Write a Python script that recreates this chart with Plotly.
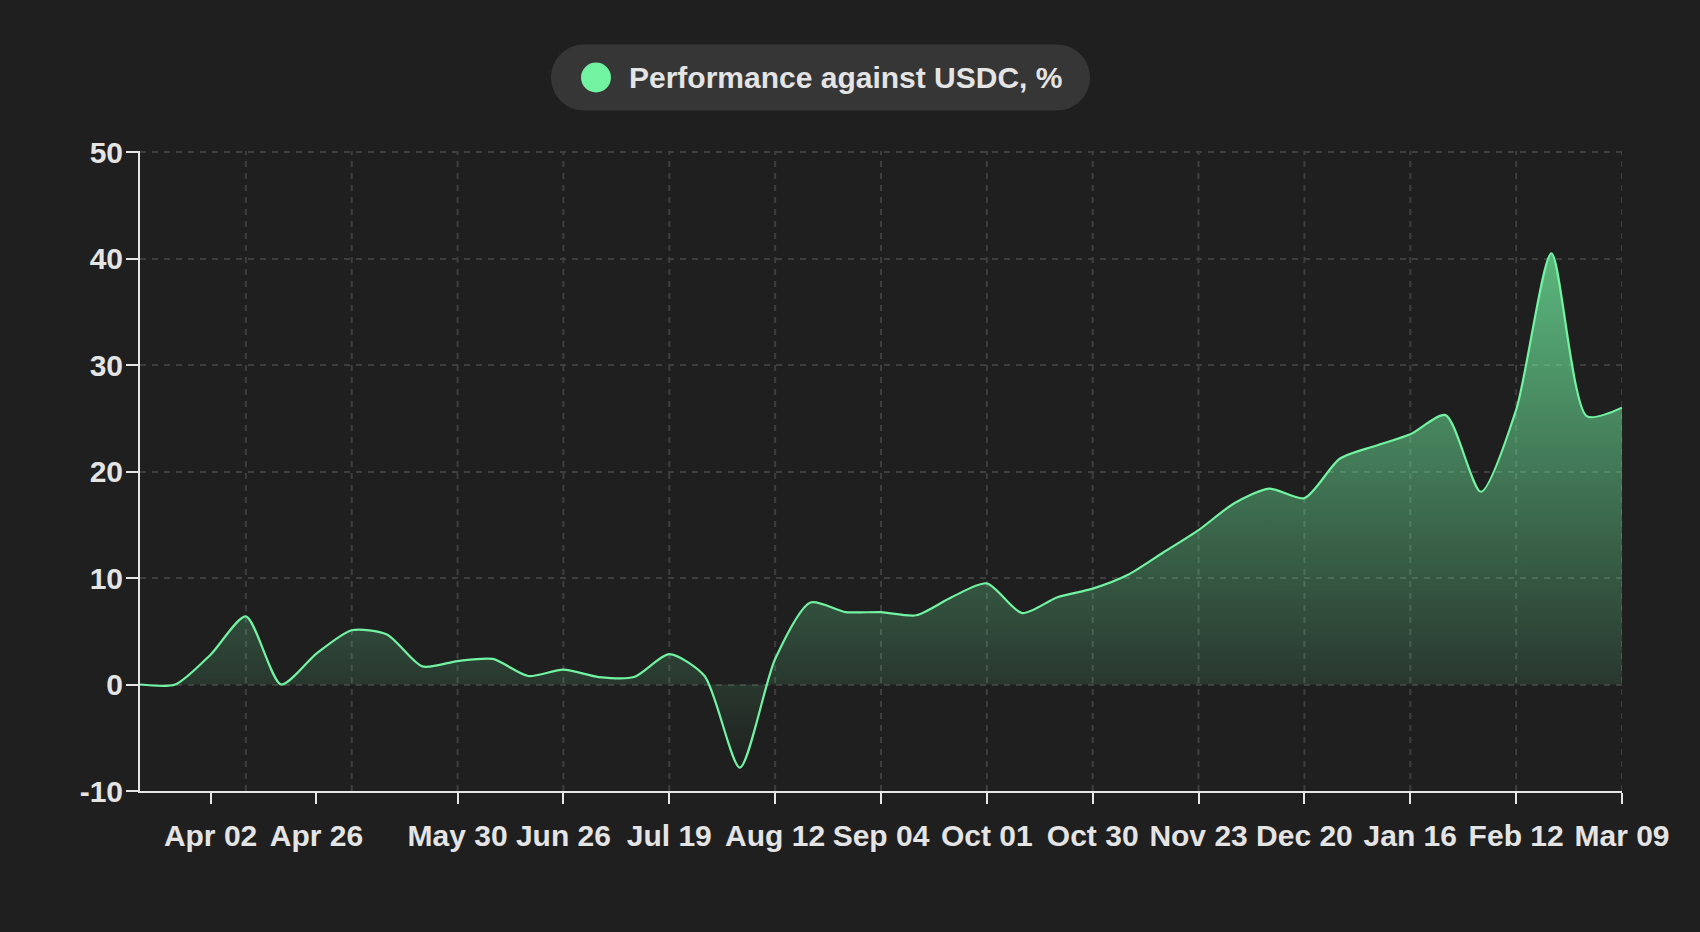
import plotly.graph_objects as go

# Performance against USDC (%), one value per sample point
day_index = list(range(43))
performance = [
    0.0, 0.0, 2.8, 6.4, 0.0, 2.9, 5.1, 4.7, 1.7, 2.2,
    2.4, 0.8, 1.4, 0.7, 0.7, 2.85, 0.8, -7.8, 2.4, 7.7,
    6.8, 6.8, 6.5, 8.2, 9.5, 6.7, 8.2, 9.0, 10.3, 12.4,
    14.5, 17.0, 18.4, 17.5, 21.2, 22.4, 23.5, 25.3, 18.1, 25.8,
    40.5, 25.2, 26.0,
]

# x tick labels and where they sit
tick_index = [2, 5, 9, 12, 15, 18, 21, 24, 27, 30, 33, 36, 39, 42]
tick_labels = ["Apr 02", "Apr 26", "May 30", "Jun 26", "Jul 19", "Aug 12", "Sep 04",
               "Oct 01", "Oct 30", "Nov 23", "Dec 20", "Jan 16", "Feb 12", "Mar 09"]
grid_index = list(range(3, 43, 3))

y_ticks = [-10, 0, 10, 20, 30, 40, 50]
y_tick_labels = ["-10", "0", "10", "20", "30", "40", "50"]

series_name = "Performance against USDC, %"

BG = "#1f1f1f"
GREEN = "#72f3a2"
TEXT = "#e4e4e4"
AXIS = "#e6e6e6"
GRID = "#3e3e3e"

W, H = 1700, 932
L, R, T, B = 140, 78, 151, 141


def px_x(x):
    return (x - L) / (W - L - R)


def px_y(y):
    return (H - B - y) / (H - T - B)


fig = go.Figure()

fig.add_trace(go.Scatter(
    x=day_index,
    y=performance,
    mode="lines",
    name=series_name,
    line=dict(color=GREEN, width=2.2, shape="spline", smoothing=0.7),
    fill="tozeroy",
    fillgradient=dict(
        type="vertical",
        colorscale=[[0, "rgba(114,243,162,0.0)"], [1, "rgba(114,243,162,0.72)"]],
    ),
    showlegend=False,
    hoverinfo="skip",
))

font = dict(family="Liberation Sans, Arial, sans-serif", size=30, color=TEXT, weight=700)

# legend pill drawn by hand (rounded corners)
pill_w, pill_h = 539, 66
r = pill_h / 2
k = 0.5523 * r
pill_path = (
    f"M {r},{-r} L {pill_w - r},{-r} "
    f"C {pill_w - r + k},{-r} {pill_w},{-k} {pill_w},0 "
    f"C {pill_w},{k} {pill_w - r + k},{r} {pill_w - r},{r} "
    f"L {r},{r} "
    f"C {r - k},{r} 0,{k} 0,0 "
    f"C 0,{-k} {r - k},{-r} {r},{-r} Z"
)

# vertical dashed grid, every third sample
grid_shapes = [
    dict(type="line", xref="x", yref="paper", x0=g, x1=g, y0=0, y1=1,
         line=dict(color=GRID, width=2, dash="6px,6px"), layer="below")
    for g in grid_index
]

fig.update_layout(
    width=W,
    height=H,
    margin=dict(l=L, r=R, t=T, b=B),
    paper_bgcolor=BG,
    plot_bgcolor=BG,
    font=font,
    showlegend=False,
    xaxis=dict(
        range=[0, 42],
        tickmode="array",
        tickvals=tick_index,
        ticktext=tick_labels,
        ticks="outside",
        ticklen=11,
        tickwidth=2,
        tickcolor=AXIS,
        ticklabelstandoff=6,
        showline=True,
        linecolor=AXIS,
        linewidth=2,
        showgrid=False,
        zeroline=False,
        tickfont=font,
    ),
    yaxis=dict(
        range=[-10, 50.1],
        tickmode="array",
        tickvals=y_ticks,
        ticktext=y_tick_labels,
        ticks="outside",
        ticklen=12,
        tickwidth=2,
        tickcolor=AXIS,
        ticklabelstandoff=-3,
        showline=True,
        linecolor=AXIS,
        linewidth=2,
        showgrid=True,
        gridcolor=GRID,
        griddash="6px,6px",
        gridwidth=2,
        zeroline=False,
        tickfont=font,
    ),
    shapes=grid_shapes + [
        dict(type="path", path=pill_path, xref="paper", yref="paper",
             xsizemode="pixel", ysizemode="pixel",
             xanchor=px_x(551), yanchor=px_y(77.5),
             fillcolor="#363636", line=dict(width=0), layer="above"),
        dict(type="circle", xref="paper", yref="paper",
             xsizemode="pixel", ysizemode="pixel",
             xanchor=px_x(596), yanchor=px_y(77.5),
             x0=-15, x1=15, y0=-15, y1=15,
             fillcolor=GREEN, line=dict(width=0), layer="above"),
    ],
    annotations=[
        dict(text=series_name, xref="paper", yref="paper",
             x=px_x(627), y=px_y(77.5), xanchor="left", yanchor="middle",
             showarrow=False, font=dict(family=font["family"], size=30, color=TEXT, weight=700)),
    ],
)

fig.write_html(
    "out.html",
    config={"displayModeBar": False},
    post_script="document.body.style.margin='0';document.body.style.overflow='hidden';",
)
